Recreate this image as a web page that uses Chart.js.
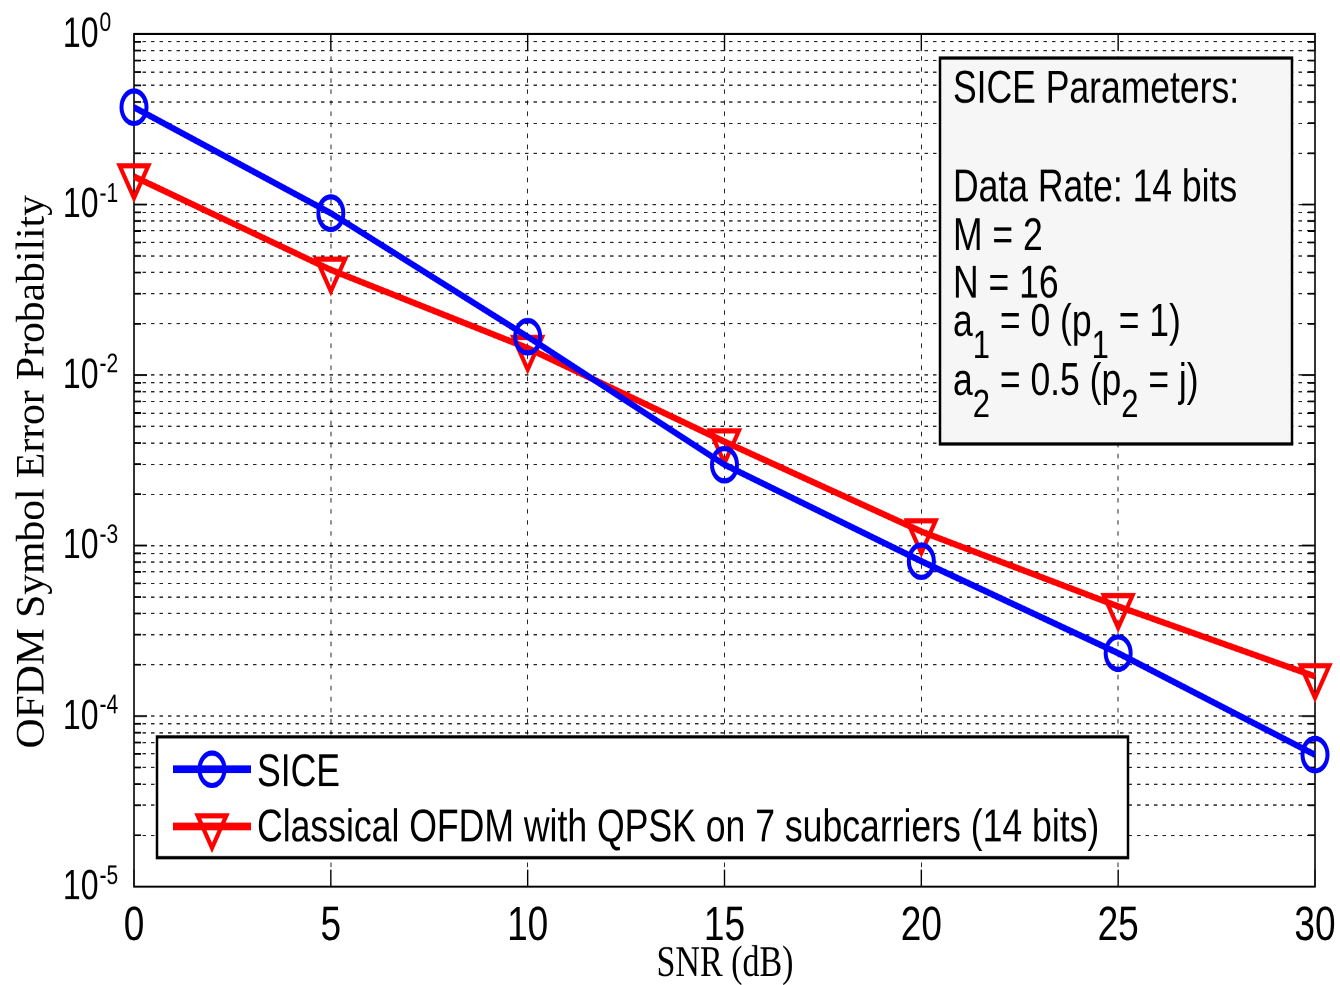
<!DOCTYPE html>
<html>
<head>
<meta charset="utf-8">
<script src="https://cdn.jsdelivr.net/npm/chart.js@4.4.1/dist/chart.umd.min.js"></script>
<style>
    html, body { margin: 0; padding: 0; background: #fff; }
    #grafico { display: block; }
</style>
</head>
<body>
<!-- el lienzo se dibuja a 758 px de alto y se estira a 985 px, como la figura original -->
<canvas id="grafico" width="1340" height="758" style="width:1340px;height:985px"></canvas>
<script>
// Datos
const snrDb = [0, 5, 10, 15, 20, 25, 30];
const serSice = [0.372, 0.089, 0.0168, 0.00298, 0.00081, 0.000234, 0.0000594];
const serClasica = [0.146, 0.0414, 0.0144, 0.00407, 0.00121, 0.00044, 0.000171];
const etiquetasSeries = ['SICE', 'Classical OFDM with QPSK on 7 subcarriers (14 bits)'];
const ticksX = [0, 5, 10, 15, 20, 25, 30];
const exponentesY = [0, -1, -2, -3, -4, -5];
const mantisas = [1, 2, 3, 4, 5, 6, 7, 8, 9];
const parametros = ['SICE Parameters:', '', 'Data Rate: 14 bits', 'M = 2', 'N = 16', 'a_1 = 0 (p_1 = 1)', 'a_2 = 0.5 (p_2 = j)'];
const tituloX = 'SNR (dB)';
const tituloY = 'OFDM Symbol Error Probability';

// valores de la rejilla logaritmica (1..9 por decada)
const valoresRejillaY = [];
exponentesY.slice().reverse().forEach(e => {
    if (e === 0) { valoresRejillaY.push(1); return; }
    mantisas.forEach(m => valoresRejillaY.push(Number((m * Math.pow(10, e)).toPrecision(3))));
});

function esDecada(v) {
    const l = Math.log10(v);
    return Math.abs(l - Math.round(l)) < 1e-9;
}

function dibujarMarcador(ctx, ds, x, y) {
    ctx.save();
    ctx.strokeStyle = ds.pointBorderColor;
    ctx.lineWidth = ds.pointBorderWidth;
    ctx.beginPath();
    if (ds.pointStyle === 'circle') {
        ctx.arc(x, y, ds.pointRadius, 0, Math.PI * 2);
    } else {
        const r = ds.pointRadius;
        let rad = (ds.pointRotation || 0) * Math.PI / 180;
        for (let k = 0; k < 3; k++) {
            const px = x + Math.sin(rad) * r, py = y - Math.cos(rad) * r;
            if (k === 0) ctx.moveTo(px, py); else ctx.lineTo(px, py);
            rad += 2 * Math.PI / 3;
        }
        ctx.closePath();
    }
    ctx.stroke();
    ctx.restore();
}

// texto con subindices marcados como _x
function textoConSubindices(ctx, texto, x, y, fuente, fuenteSub, bajada) {
    texto.split(/(_.)/).forEach(p => {
        if (!p) return;
        if (p[0] === '_') {
            ctx.font = fuenteSub;
            ctx.fillText(p[1], x, y + bajada);
            x += ctx.measureText(p[1]).width;
        } else {
            ctx.font = fuente;
            ctx.fillText(p, x, y);
            x += ctx.measureText(p).width;
        }
    });
}

const pluginFigura = {
    id: 'figura',
    beforeDatasetsDraw(chart) {
        const { ctx, chartArea: a, scales: { x, y } } = chart;
        ctx.save();
        ctx.strokeStyle = '#000';
        ctx.lineWidth = 1.6;
        ctx.strokeRect(a.left, a.top, a.right - a.left, a.bottom - a.top);
        ctx.lineWidth = 1.4;
        ctx.beginPath();
        ticksX.forEach(v => {
            const px = x.getPixelForValue(v);
            ctx.moveTo(px, a.bottom); ctx.lineTo(px, a.bottom - 13);
            ctx.moveTo(px, a.top); ctx.lineTo(px, a.top + 13);
        });
        valoresRejillaY.forEach(v => {
            const py = y.getPixelForValue(v);
            const largo = esDecada(v) ? 13 : 7;
            ctx.moveTo(a.left, py); ctx.lineTo(a.left + largo, py);
            ctx.moveTo(a.right, py); ctx.lineTo(a.right - largo, py);
        });
        ctx.stroke();
        ctx.restore();
    },
    afterDraw(chart) {
        const { ctx, chartArea: a, scales: { y } } = chart;
        ctx.save();
        ctx.fillStyle = '#000';

        // etiquetas del eje Y: 10 con exponente
        exponentesY.forEach(e => {
            const py = y.getPixelForValue(Math.pow(10, e));
            ctx.font = '32px "Liberation Sans", Arial, sans-serif';
            ctx.textAlign = 'right';
            ctx.textBaseline = 'middle';
            ctx.fillText('10', 98.5, py + 1);
            ctx.font = '21px "Liberation Sans", Arial, sans-serif';
            ctx.textAlign = 'left';
            ctx.textBaseline = 'alphabetic';
            ctx.fillText(String(e), 99.5, py - 2);
        });

        // titulos de ejes
        ctx.font = '34px "Liberation Serif", "Times New Roman", serif';
        ctx.textAlign = 'center';
        ctx.textBaseline = 'alphabetic';
        ctx.fillText(tituloX, (a.left + a.right) / 2 + 0.5, 751);
        ctx.save();
        ctx.translate(33, 363);
        ctx.rotate(-Math.PI / 2);
        ctx.scale(0.8, 1);
        ctx.font = '40px "Liberation Serif", "Times New Roman", serif';
        ctx.textBaseline = 'middle';
        ctx.fillText(tituloY, 0, 0);
        ctx.restore();

        // cuadro de parametros
        ctx.fillStyle = '#f6f6f6';
        ctx.fillRect(940, 44.6, 352, 297);
        ctx.strokeStyle = '#000';
        ctx.lineWidth = 2.5;
        ctx.strokeRect(940, 44.6, 352, 297);
        ctx.fillStyle = '#000';
        ctx.textAlign = 'left';
        const baselines = [79.2, 0, 155.2, 192.3, 229.2, 258.5, 303.8];
        parametros.forEach((t, i) => {
            if (!t) return;
            textoConSubindices(ctx, t, 953, baselines[i],
                '35.5px "Liberation Sans", Arial, sans-serif',
                '31px "Liberation Sans", Arial, sans-serif', 17);
        });

        // leyenda
        ctx.fillStyle = '#fff';
        ctx.fillRect(157, 567, 971, 93);
        ctx.lineWidth = 2.5;
        ctx.strokeRect(157, 567, 971, 93);
        const filas = [{ yl: 592, yb: 605 }, { yl: 636, yb: 647.5 }];
        chart.data.datasets.forEach((ds, i) => {
            const f = filas[i];
            ctx.save();
            ctx.strokeStyle = ds.borderColor;
            ctx.lineWidth = 6;
            ctx.beginPath();
            ctx.moveTo(173, f.yl);
            ctx.lineTo(251, f.yl);
            ctx.stroke();
            ctx.restore();
            dibujarMarcador(ctx, ds, 212, f.yl);
            ctx.fillStyle = '#000';
            ctx.font = '35.6px "Liberation Sans", Arial, sans-serif';
            ctx.textAlign = 'left';
            ctx.textBaseline = 'alphabetic';
            ctx.fillText(ds.label, 257, f.yb);
        });
        ctx.restore();
    }
};

const rejilla = { color: 'rgba(0,0,0,0.85)', lineWidth: 1, drawTicks: false };
const bordeRejilla = { display: false, dash: [3.5, 5] };

new Chart(document.getElementById('grafico').getContext('2d'), {
    type: 'line',
    data: {
        datasets: [{
            label: etiquetasSeries[0],
            data: snrDb.map((s, i) => ({ x: s, y: serSice[i] })),
            borderColor: '#0000ff',
            borderWidth: 5,
            pointStyle: 'circle',
            pointRadius: 12.5,
            pointBorderWidth: 4,
            pointBorderColor: '#0000ff',
            pointBackgroundColor: 'rgba(0,0,0,0)',
            tension: 0,
            clip: false
        }, {
            label: etiquetasSeries[1],
            data: snrDb.map((s, i) => ({ x: s, y: serClasica[i] })),
            borderColor: '#ff0000',
            borderWidth: 5,
            pointStyle: 'triangle',
            pointRotation: 180,
            pointRadius: 16.5,
            pointBorderWidth: 4,
            pointBorderColor: '#ff0000',
            pointBackgroundColor: 'rgba(0,0,0,0)',
            tension: 0,
            clip: false
        }]
    },
    options: {
        responsive: false,
        devicePixelRatio: 2,
        animation: false,
        layout: { padding: { left: 0, right: 25, top: 26.2, bottom: 0 } },
        plugins: {
            legend: { display: false },
            tooltip: { enabled: false }
        },
        scales: {
            x: {
                type: 'linear',
                min: 0,
                max: 30,
                afterBuildTicks: s => { s.ticks = ticksX.map(v => ({ value: v })); },
                afterFit: s => { s.height = 75.7; s.paddingLeft = 0; s.paddingRight = 0; },
                ticks: {
                    color: '#000',
                    padding: 9,
                    maxRotation: 0,
                    font: { family: '"Liberation Sans", Arial, sans-serif', size: 37 }
                },
                grid: rejilla,
                border: bordeRejilla
            },
            y: {
                type: 'logarithmic',
                min: 1e-5,
                max: 1,
                afterBuildTicks: s => { s.ticks = valoresRejillaY.map(v => ({ value: v })); },
                afterFit: s => { s.width = 134; s.paddingTop = 0; s.paddingBottom = 0; },
                ticks: { display: false },
                grid: rejilla,
                border: bordeRejilla
            }
        }
    },
    plugins: [pluginFigura]
});
</script>
</body>
</html>
